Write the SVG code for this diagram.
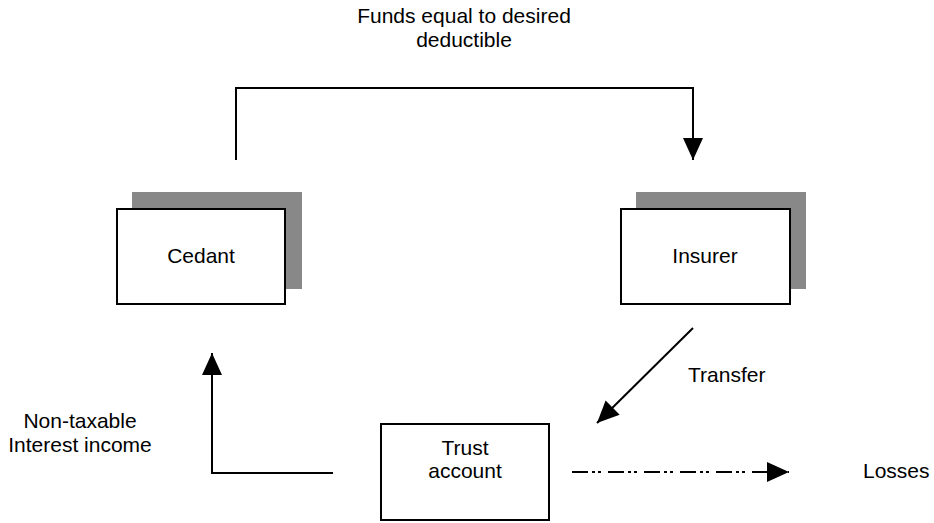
<svg xmlns="http://www.w3.org/2000/svg" width="934" height="523" viewBox="0 0 934 523">
  <style>
    .box { fill: #ffffff; stroke: #000000; stroke-width: 2; }
    .shadow { fill: #888888; stroke: none; }
    .lbl { font-family: "Liberation Sans", Arial, Helvetica, sans-serif; font-size: 21px; fill: #000000; }
    .mid { text-anchor: middle; }
    .wire { fill: none; stroke: #000000; stroke-width: 2; }
    .dashdot { stroke-dasharray: 16 4 3 3 3 7; }
  </style>
  <defs>
    <marker id="head" markerUnits="userSpaceOnUse" markerWidth="22" markerHeight="20" refX="22" refY="10" orient="auto">
      <path d="M0,0 L22,10 L0,20 Z" fill="#000000"/>
    </marker>
  </defs>

  <rect width="934" height="523" fill="#ffffff"/>

  <!-- label of the premium payment -->
  <text class="lbl mid" x="464" y="23">Funds equal to desired</text>
  <text class="lbl mid" x="464" y="47">deductible</text>

  <g id="cedant">
    <rect class="shadow" x="132" y="192" width="170" height="97"/>
    <rect class="box" x="117" y="209" width="168" height="95"/>
    <text class="lbl mid" x="201" y="263">Cedant</text>
  </g>

  <g id="insurer">
    <rect class="shadow" x="636" y="192" width="170" height="97"/>
    <rect class="box" x="621" y="209" width="169" height="95"/>
    <text class="lbl mid" x="705" y="263">Insurer</text>
  </g>

  <g id="trust">
    <rect class="box" x="381" y="424" width="168" height="96"/>
    <text class="lbl mid" x="465" y="455">Trust</text>
    <text class="lbl mid" x="465" y="478">account</text>
  </g>

  <g id="connectors">
    <!-- cedant pays funds to insurer -->
    <path class="wire" d="M236,160 V88 H693 V160" marker-end="url(#head)"/>
    <!-- insurer transfers into the trust -->
    <path class="wire" d="M693,328 L597,423" marker-end="url(#head)"/>
    <!-- interest income back to cedant -->
    <path class="wire" d="M333,473 H212 V353" marker-end="url(#head)"/>
    <!-- losses paid out of the trust -->
    <path class="wire dashdot" d="M572,472 H789" marker-end="url(#head)"/>
  </g>

  <text class="lbl" x="688" y="382">Transfer</text>
  <text class="lbl mid" x="80" y="428">Non-taxable</text>
  <text class="lbl mid" x="80" y="452">Interest income</text>
  <text class="lbl" x="863" y="478">Losses</text>
</svg>
